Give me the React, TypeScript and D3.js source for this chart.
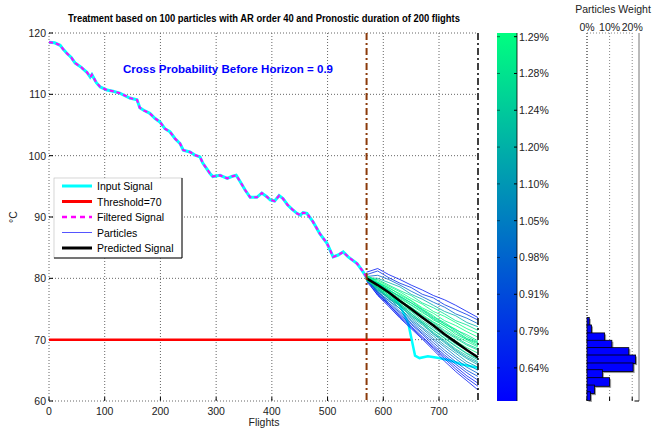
import React from 'react';
import * as d3 from 'd3';

// observed signal up to current time (flight 570)
const signalFlights = [0, 10, 20, 26, 32, 40, 47, 58, 68, 74, 77, 85, 92, 104, 115, 127, 145, 158, 163, 170, 181, 190, 199, 208, 217, 226, 235, 241, 253, 262, 271, 276, 289, 294, 307, 320, 328, 336, 343, 352, 361, 373, 382, 391, 397, 405, 413, 420, 428, 436, 445, 451, 456, 463, 474, 486, 499, 510, 519, 528, 537, 553, 562, 571];
const signalTemps = [118.5, 118.4, 118.0, 117.3, 116.7, 116.0, 115.1, 114.4, 113.6, 112.8, 113.2, 111.9, 111.2, 110.7, 110.5, 110.2, 109.4, 109.1, 107.8, 107.4, 106.9, 106.1, 105.5, 104.4, 103.9, 102.8, 102.0, 100.9, 100.6, 100.1, 99.8, 98.8, 97.1, 96.6, 96.8, 96.3, 96.6, 96.8, 95.8, 94.4, 93.2, 93.2, 93.9, 93.3, 92.8, 92.6, 93.5, 93.0, 92.0, 91.3, 90.6, 90.3, 90.7, 90.6, 89.2, 87.3, 85.7, 83.5, 83.8, 84.3, 83.5, 82.4, 81.3, 80.0];

// real signal after current time
const futureFlights = [571, 590, 610, 630, 645, 651, 657, 665, 680, 700, 720, 740, 770];
const futureTemps = [80.0, 79.2, 77.8, 75.6, 72.6, 70.0, 67.4, 67.0, 67.3, 67.0, 66.6, 66.0, 65.4];

const threshold = 70;
const thresholdEnd = 650;
const currentFlight = 570;
const horizonFlight = 770;

// particles (waypoints every 20 flights) and their weights in %
const particleFlights = [570, 590, 610, 630, 650, 670, 690, 710, 730, 750, 770];
const particleTemps = [
  [81.0, 81.6, 80.6, 79.8, 78.9, 78.1, 77.2, 76.5, 75.6, 74.6, 73.6],
  [80.6, 81.2, 80.1, 79.2, 78.5, 77.4, 76.8, 75.7, 74.9, 74.1, 73.2],
  [80.3, 80.5, 79.8, 78.9, 77.9, 77.0, 76.1, 75.3, 74.2, 73.5, 72.6],
  [80.1, 80.0, 79.3, 78.6, 77.4, 76.6, 75.6, 74.6, 73.9, 72.8, 72.1],
  [79.9, 79.8, 78.9, 78.0, 77.2, 76.0, 75.2, 74.2, 73.1, 72.4, 71.5],
  [80.4, 79.6, 78.7, 77.8, 76.7, 75.8, 74.6, 73.8, 72.8, 71.8, 71.0],
  [80.0, 79.3, 78.4, 77.5, 76.4, 75.2, 74.3, 73.1, 72.3, 71.3, 70.4],
  [79.7, 79.1, 78.0, 77.1, 76.0, 74.9, 73.7, 72.8, 71.6, 70.8, 69.8],
  [80.2, 78.9, 77.9, 76.7, 75.6, 74.4, 73.4, 72.2, 71.2, 70.1, 69.3],
  [79.8, 78.7, 77.5, 76.5, 75.2, 74.1, 72.9, 71.9, 70.6, 69.7, 68.8],
  [80.1, 78.5, 77.6, 76.1, 75.0, 73.7, 72.6, 71.3, 70.2, 69.1, 68.3],
  [79.9, 78.8, 77.2, 76.2, 74.7, 73.5, 72.2, 71.0, 69.8, 68.7, 67.8],
  [80.3, 78.4, 77.3, 75.8, 74.6, 73.1, 71.9, 70.6, 69.3, 68.3, 67.3],
  [79.6, 78.6, 76.9, 75.9, 74.2, 72.9, 71.5, 70.3, 69.0, 67.8, 66.9],
  [80.0, 78.2, 77.0, 75.4, 74.0, 72.6, 71.2, 69.9, 68.5, 67.4, 66.4],
  [80.2, 78.3, 76.6, 75.5, 73.7, 72.4, 70.9, 69.5, 68.1, 66.9, 65.9],
  [79.8, 78.0, 76.8, 75.0, 73.5, 72.0, 70.6, 69.1, 67.8, 66.4, 65.5],
  [80.1, 77.9, 76.3, 75.1, 73.2, 71.8, 70.2, 68.8, 67.3, 66.0, 65.0],
  [79.7, 77.7, 76.4, 74.6, 73.0, 71.4, 69.9, 68.3, 66.9, 65.5, 64.5],
  [80.0, 77.8, 76.0, 74.4, 72.7, 71.1, 69.5, 67.9, 66.4, 65.0, 64.0],
  [79.9, 77.5, 75.9, 74.1, 72.5, 70.9, 69.1, 67.5, 66.0, 64.6, 63.4],
  [80.2, 77.6, 75.6, 73.9, 72.2, 70.5, 68.8, 67.2, 65.6, 64.1, 62.9],
  [79.5, 77.3, 75.7, 73.7, 72.0, 70.3, 68.6, 66.9, 65.2, 63.7, 62.4],
  [79.8, 77.2, 75.4, 73.5, 71.8, 70.1, 68.3, 66.5, 64.8, 63.3, 61.8],
  [80.5, 79.4, 78.5, 77.3, 76.3, 75.0, 73.9, 72.5, 71.7, 70.5, 69.6],
  [79.9, 79.0, 78.1, 76.9, 75.7, 74.6, 73.2, 72.3, 70.9, 70.0, 69.0],
  [80.2, 78.6, 77.7, 76.3, 75.3, 73.9, 72.8, 71.5, 70.4, 69.3, 68.5],
  [80.0, 78.1, 77.1, 75.6, 74.3, 72.8, 71.6, 70.2, 68.9, 67.7, 66.7],
  [79.7, 78.5, 76.7, 75.7, 73.9, 72.7, 71.0, 69.7, 68.3, 67.1, 66.2],
  [80.3, 79.2, 78.2, 77.0, 76.0, 74.8, 73.5, 72.6, 71.4, 70.2, 69.5],
];
const particleWeights = [0.64, 0.79, 0.98, 1.2, 1.28, 1.29, 1.29, 1.28, 1.29, 1.29, 1.28, 1.29, 1.24, 1.28, 1.24, 1.2, 1.1, 1.05, 0.98, 0.91, 0.79, 0.64, 0.6, 0.55, 1.29, 1.28, 1.24, 1.2, 1.1, 1.24];

const predictedTemps = [80.0, 78.9, 77.7, 76.3, 75.0, 73.6, 72.3, 70.9, 69.6, 68.3, 67.1];

// colorbar tick labels, bottom to top
const cbValues = [0.64, 0.79, 0.91, 0.98, 1.05, 1.10, 1.20, 1.24, 1.28, 1.29];
const cbLabels = ['0.64%', '0.79%', '0.91%', '0.98%', '1.05%', '1.10%', '1.20%', '1.24%', '1.28%', '1.29%'];

// histogram of final particle values
const histCenters = [72.9, 71.7, 70.4, 69.2, 68.0, 66.8, 65.5, 64.4, 63.1, 61.9, 60.8];
const histWeights = [1.0, 2.0, 7.8, 11.0, 18.5, 21.5, 20.4, 6.8, 10.0, 3.3, 1.5];
const histTicks = [0, 10, 20];

const xTicks = [0, 100, 200, 300, 400, 500, 600, 700];
const yTicks = [60, 70, 80, 90, 100, 110, 120];

const FONT = '"Liberation Sans", Arial, sans-serif';

export default function App() {
  const x = d3.scaleLinear().domain([0, 770]).range([49, 478]);
  const y = d3.scaleLinear().domain([60, 120]).range([401, 33]);

  // colorbar
  const cbY = d3.scaleLinear().domain([0, 10]).range([401, 33]);
  const cbX0 = 497, cbX1 = 517;
  const cbPos = cbValues.map((_, i) => i + 0.9);
  const weightToT = d3.scaleLinear().domain(cbValues).range(cbPos.map(p => p / 10)).clamp(true);
  const winter = d3.interpolateRgb('#0000ff', '#00ff80');

  const hx = d3.scaleLinear().domain([0, 23]).range([587, 639]);

  const line = d3.line<[number, number]>().x(d => x(d[0])).y(d => y(d[1]));
  const signalPts = signalFlights.map((f, i) => [f, signalTemps[i]] as [number, number]);
  const futurePts = futureFlights.map((f, i) => [f, futureTemps[i]] as [number, number]);

  // draw low-weight particles first so the heavy ones sit on top
  const order = d3.range(particleTemps.length).sort((a, b) => particleWeights[a] - particleWeights[b]);

  const legendItems = [
    { label: 'Input Signal', color: '#00ffff', width: 3, dash: '' },
    { label: 'Threshold=70', color: '#ff0000', width: 3, dash: '' },
    { label: 'Filtered Signal', color: '#ff00ff', width: 2.5, dash: '5,4' },
    { label: 'Particles', color: '#5555ff', width: 1, dash: '' },
    { label: 'Predicted Signal', color: '#000000', width: 3, dash: '' },
  ];

  return (
    <svg width={662} height={432} style={{ position: 'absolute', left: 0, top: 0, background: '#fff' }} fontFamily={FONT}>
      <defs>
        <linearGradient id="winter" x1="0" y1="1" x2="0" y2="0">
          <stop offset="0" stopColor="#0000ff" />
          <stop offset="1" stopColor="#00ff80" />
        </linearGradient>
      </defs>

      {/* grid */}
      {xTicks.map(t => (
        <g key={'gx' + t}>
          <line x1={x(t)} x2={x(t)} y1={33} y2={401} stroke="#666" strokeWidth={1} strokeDasharray="1,2" />
          <line x1={x(t)} x2={x(t)} y1={401} y2={397} stroke="#000" />
          <text x={x(t)} y={415} fontSize={10.5} textAnchor="middle" fill="#222">{t}</text>
        </g>
      ))}
      {yTicks.map(t => (
        <g key={'gy' + t}>
          <line x1={49} x2={478} y1={y(t)} y2={y(t)} stroke="#666" strokeWidth={1} strokeDasharray="1,2" />
          <line x1={49} x2={53} y1={y(t)} y2={y(t)} stroke="#000" />
          <text x={46} y={y(t) + 4} fontSize={10.5} textAnchor="end" fill="#222">{t}</text>
        </g>
      ))}

      {/* threshold */}
      <line x1={x(0)} x2={x(thresholdEnd)} y1={y(threshold)} y2={y(threshold)} stroke="#ff0000" strokeWidth={2.5} />

      {/* input signal */}
      <path d={line(signalPts) || ''} fill="none" stroke="#00ffff" strokeWidth={3} />
      <path d={line(futurePts) || ''} fill="none" stroke="#00ffff" strokeWidth={2.5} />
      <path d={line(signalPts) || ''} fill="none" stroke="#ff00ff" strokeWidth={2} strokeDasharray="4,3" />

      {/* particles */}
      {order.map(i => (
        <path key={'p' + i}
          d={line(particleFlights.map((f, j) => [f, particleTemps[i][j]] as [number, number])) || ''}
          fill="none" stroke={winter(weightToT(particleWeights[i]))} strokeWidth={0.8} />
      ))}

      {/* predicted */}
      <path d={line(particleFlights.map((f, j) => [f, predictedTemps[j]] as [number, number])) || ''}
        fill="none" stroke="#000" strokeWidth={2.5} />

      {/* current time and horizon */}
      <line x1={x(currentFlight)} x2={x(currentFlight)} y1={33} y2={401} stroke="#8b3a0a" strokeWidth={2} strokeDasharray="7,3,2,3" />
      <line x1={x(horizonFlight)} x2={x(horizonFlight)} y1={33} y2={401} stroke="#000" strokeWidth={1.5} strokeDasharray="7,3,2,3" />

      {/* texts */}
      <text x={264} y={22} fontSize={11} fontWeight="bold" textAnchor="middle" textLength={392} lengthAdjust="spacingAndGlyphs">
        Treatment based on 100 particles with AR order 40 and Pronostic duration of 200 flights
      </text>
      <text x={228} y={73} fontSize={11} fontWeight="bold" fill="#0000ff" textAnchor="middle" textLength={210} lengthAdjust="spacingAndGlyphs">
        Cross Probability Before Horizon = 0.9
      </text>
      <text x={264} y={426} fontSize={10.5} textAnchor="middle" fill="#222">Flights</text>
      <text transform="translate(17,217) rotate(-90)" fontSize={10.5} textAnchor="middle" fill="#222">°C</text>

      {/* legend */}
      <g>
        <rect x={54} y={178} width={128} height={80} fill="#fff" stroke="#bbb" strokeWidth={0.6} />
        <line x1={182} x2={182} y1={178} y2={258} stroke="#000" />
        <line x1={54} x2={182} y1={258} y2={258} stroke="#000" />
        {legendItems.map((d, i) => (
          <g key={d.label}>
            <line x1={62} x2={92} y1={186 + i * 15.5} y2={186 + i * 15.5} stroke={d.color} strokeWidth={d.width} strokeDasharray={d.dash} />
            <text x={97} y={190 + i * 15.5} fontSize={10.5} fill="#000">{d.label}</text>
          </g>
        ))}
      </g>

      {/* colorbar */}
      <rect x={cbX0} y={33} width={cbX1 - cbX0} height={368} fill="url(#winter)" />
      <line x1={cbX1} x2={cbX1} y1={33} y2={401} stroke="#000" strokeWidth={0.8} />
      {cbPos.map((p, i) => (
        <g key={'cb' + i}>
          <line x1={cbX0} x2={cbX0 + 3} y1={cbY(p)} y2={cbY(p)} stroke="#000" strokeOpacity={0.5} />
          <line x1={cbX1 - 3} x2={cbX1} y1={cbY(p)} y2={cbY(p)} stroke="#000" />
          <text x={cbX1 + 2} y={cbY(p) + 4} fontSize={10.5} fill="#222">{cbLabels[i]}</text>
        </g>
      ))}

      {/* particles weight histogram */}
      <text x={613} y={13} fontSize={10.5} textAnchor="middle" fill="#222">Particles Weight</text>
      {histTicks.map(t => (
        <g key={'h' + t}>
          <line x1={hx(t)} x2={hx(t)} y1={33} y2={401} stroke={t === 0 ? '#000' : '#888'} strokeDasharray="1,2" />
          <line x1={hx(t)} x2={hx(t)} y1={401} y2={397} stroke="#000" />
          <text x={hx(t)} y={31} fontSize={10.5} textAnchor="middle" fill="#222">{t}%</text>
        </g>
      ))}
      <line x1={hx(0)} x2={hx(20)} y1={33} y2={33} stroke="#888" strokeDasharray="1,2" />
      <line x1={hx(23)} x2={hx(23)} y1={33} y2={401} stroke="#777" />
      <line x1={hx(21)} x2={hx(23)} y1={401} y2={401} stroke="#000" />
      {histCenters.map((c, i) => (
        <rect key={'hs' + i} x={hx(0) + 1.5} y={y(c + 0.7) + 1.5} width={hx(histWeights[i]) - hx(0)} height={y(c - 0.7) - y(c + 0.7)} fill="#999" />
      ))}
      {histCenters.map((c, i) => (
        <rect key={'hb' + i} x={hx(0)} y={y(c + 0.7)} width={hx(histWeights[i]) - hx(0)} height={y(c - 0.7) - y(c + 0.7)} fill="#0000ff" stroke="#000" strokeWidth={0.8} />
      ))}
    </svg>
  );
}
